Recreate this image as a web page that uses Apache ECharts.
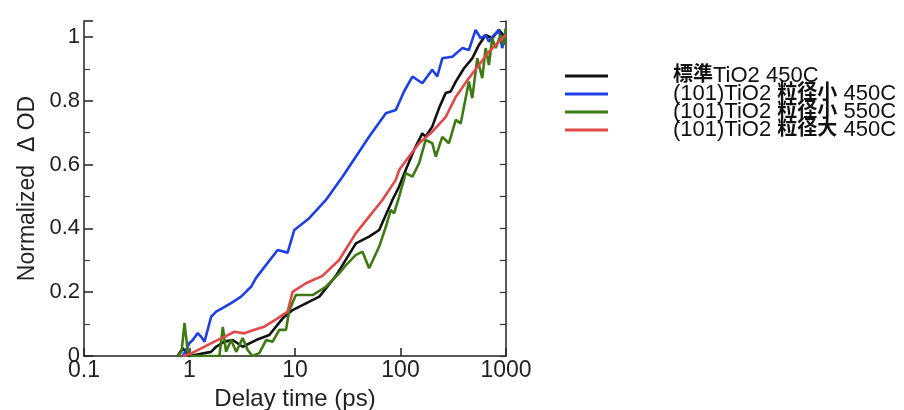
<!DOCTYPE html>
<html><head><meta charset="utf-8">
<script src="https://cdn.jsdelivr.net/npm/echarts@6/dist/echarts.min.js"></script>
<style>html,body{margin:0;padding:0;background:#fff}#c{width:904px;height:410px}</style>
</head><body><div id="c"></div>
<script>
const seriesNames = ['標準TiO2 450C', '(101)TiO2 粒径小 450C', '(101)TiO2 粒径小 550C', '(101)TiO2 粒径大 450C'];
const xTicks = [0.1, 1, 10, 100, 1000];
const yTicks = [0, 0.2, 0.4, 0.6, 0.8, 1];

const blackT = [0.77,0.864,1.0,1.6,1.79,2.14,2.57,3.19,4.28,5.71,7.64,9.49,12.7,17.0,24.4,37.8,50.4,62.8,83.8,97,112,134.5,161,173,200,232,268,299,334,400,479,554,641,740,857,991];
const blackV = [0,0.024,0,0.013,0.029,0.045,0.05,0.029,0.05,0.066,0.118,0.144,0.165,0.186,0.251,0.353,0.374,0.395,0.489,0.531,0.583,0.646,0.698,0.687,0.719,0.777,0.824,0.829,0.86,0.902,0.933,0.975,1.006,0.996,1.022,0.997];

const blueT = [0.858,0.911,1.0,1.075,1.198,1.29,1.387,1.604,1.789,2.052,2.48,3.084,3.834,4.276,6.845,8.51,9.85,13.65,19.65,28.2,50.4,72.6,90.3,108,129.7,161,200,223,249,310,385,445,515,575,641,689,769,857,921,991];
const blueV = [0,0.013,0.041,0.05,0.072,0.06,0.045,0.123,0.139,0.15,0.166,0.186,0.217,0.245,0.332,0.324,0.395,0.432,0.489,0.562,0.687,0.761,0.771,0.829,0.876,0.855,0.897,0.876,0.933,0.938,0.965,0.959,1.022,0.996,1.006,0.985,1.006,1.022,0.965,1.017];

const greenT = [0.77,0.84,0.897,0.964,1.045,1.92,2.07,2.22,2.48,2.77,3.19,3.56,3.94,4.59,5.32,6.14,7.1,8.22,8.84,10.2,14.7,19.65,26.2,30.4,37.8,43.6,50.4,62.8,72.6,81,86.9,97,112,129.7,150,173,200,216,249,288,334,372,408,445,479,534,596,641,689,740,798,889,955,991];
const greenV = [0,0.013,0.103,0.013,0,0,0.091,0.013,0.05,0.013,0.056,0.019,0,0.009,0.05,0.045,0.082,0.082,0.144,0.191,0.191,0.217,0.259,0.285,0.317,0.327,0.275,0.343,0.405,0.458,0.447,0.499,0.573,0.562,0.604,0.677,0.667,0.625,0.687,0.667,0.74,0.729,0.797,0.86,0.808,0.933,0.871,0.965,0.912,0.996,0.965,1.006,0.975,1.027];

const redT = [0.864,1.038,1.29,1.72,2.14,2.67,3.31,4.12,5.12,6.84,8.51,9.49,12.7,18.2,26.2,37.8,50.4,67.4,90.3,97,120.6,150,200,268,334,445,554,689,857,991];
const redV = [0,0.008,0.024,0.045,0.06,0.076,0.071,0.082,0.092,0.118,0.139,0.201,0.228,0.251,0.301,0.385,0.437,0.489,0.552,0.583,0.625,0.667,0.703,0.749,0.812,0.871,0.912,0.954,0.985,1.006];

const colors = ['#111111', '#1f3fe6', '#3e7a12', '#e24848'];
const pair = (t, v) => t.map((x, i) => [x, v[i]]);
const datasets = [pair(blackT, blackV), pair(blueT, blueV), pair(greenT, greenV), pair(redT, redV)];

const FONT = "'Liberation Sans', Arial, sans-serif";
const LFONT = "'Liberation Sans', 'Noto Sans CJK JP', sans-serif";
const chart = echarts.init(document.getElementById('c'), null, {renderer: 'canvas'});

function legendFmt(name) {
  return name.split(/([\u3000-\u9fff]+)/).filter(s => s.length).map(s =>
    /[\u3000-\u9fff]/.test(s) ? '{c|' + s + '}' : '{a|' + s + '}').join('');
}

chart.setOption({
  backgroundColor: '#fff',
  animation: false,
  grid: {left: 84, right: 398, top: 21, bottom: 54, containLabel: false, outerBoundsMode: 'none'},
  legend: {
    orient: 'vertical', left: 560, top: 60, itemGap: -6,
    icon: 'rect', itemWidth: 43, itemHeight: 3,
    data: seriesNames,
    formatter: legendFmt,
    textStyle: {
      padding: [0, 0, 0, 60],
      rich: {
        a: {fontFamily: LFONT, fontSize: 22, color: '#111', lineHeight: 22, verticalAlign: 'top'},
        c: {fontFamily: LFONT, fontWeight: 'bold', fontSize: 20, color: '#111', lineHeight: 22,
            verticalAlign: 'top', padding: [0, 0, 4, 0]}
      }
    }
  },
  xAxis: {
    type: 'log', logBase: 10, min: xTicks[0], max: xTicks[xTicks.length - 1],
    name: 'Delay time (ps)', nameLocation: 'middle', nameGap: 30,
    nameTextStyle: {fontFamily: FONT, fontSize: 24, color: '#222'},
    axisLine: {show: true, onZero: false, lineStyle: {color: '#222', width: 1.5}},
    axisTick: {show: true, inside: true, length: 8, lineStyle: {color: '#222', width: 1.5}},
    minorTick: {show: false},
    splitLine: {show: false},
    axisLabel: {fontFamily: FONT, fontSize: 23, color: '#222', margin: 4, lineHeight: 22,
      formatter: v => String(v)}
  },
  yAxis: [{
    type: 'value', min: 0, max: 1.05, interval: 0.2,
    name: 'Normalized  Δ OD', nameLocation: 'middle', nameGap: 45,
    nameTextStyle: {fontFamily: FONT, fontSize: 23, color: '#222'},
    axisLine: {show: true, lineStyle: {color: '#222', width: 1.5}},
    axisTick: {show: true, inside: true, length: 9, lineStyle: {color: '#222', width: 1.5}},
    minorTick: {show: true, splitNumber: 2, length: 6, lineStyle: {color: '#444', width: 1.2}},
    splitLine: {show: false},
    axisLabel: {fontFamily: FONT, fontSize: 22, color: '#222', margin: 4,
      showMaxLabel: false,
      formatter: v => (yTicks.some(t => Math.abs(t - v) < 1e-9) ? String(+v.toFixed(1)) : '')}
  }, {
    type: 'value', min: 0, max: 1.05, interval: 0.1, position: 'right',
    axisLine: {show: true, lineStyle: {color: '#222', width: 1.5}},
    axisTick: {show: true, inside: true, length: 6, lineStyle: {color: '#333', width: 1.2}},
    axisLabel: {show: false},
    splitLine: {show: false}
  }],
  series: seriesNames.map((n, i) => ({
    name: n, type: 'line', data: datasets[i], showSymbol: false, symbol: 'none',
    color: colors[i], lineStyle: {color: colors[i], width: 2.6}, z: i === 3 ? 5 : 2 + i
  }))
});
</script></body></html>
